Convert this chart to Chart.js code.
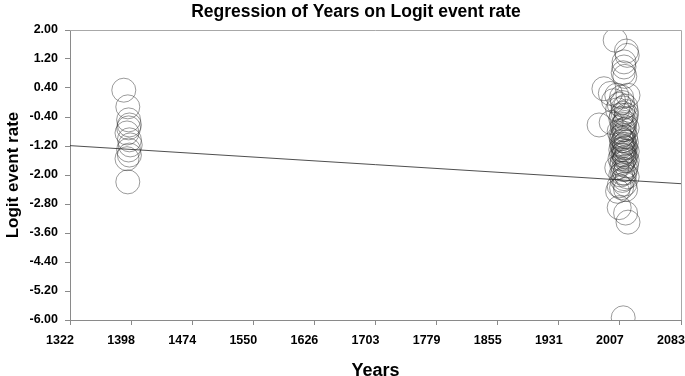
<!DOCTYPE html>
<html>
<head>
<meta charset="utf-8">
<script src="https://cdn.jsdelivr.net/npm/chart.js@4"></script>
<style>
  html, body { margin: 0; padding: 0; background: #ffffff; }
  #wrap { width: 685px; height: 376px; position: relative; }
</style>
</head>
<body>
<div id="wrap"><canvas id="c" width="685" height="376"></canvas></div>
<script>
// ---- Data ----
const studyYears = [
  1389, 1394, 1395, 1396, 1395, 1393, 1396, 1397, 1395, 1396, 1394, 1393,
  2001, 2015, 2016, 2012, 2012, 2011, 2013, 1987, 1995, 2003, 2009, 2017,
  1999, 2006, 2014, 2010, 2004, 2011, 2015, 1981, 1996, 2008, 2013, 2010,
  2016, 2006, 2012, 2014, 2009, 2011, 2015, 2013, 2010, 2012, 2008, 2016,
  2011, 2014, 2007, 2012, 2009, 2015, 2003, 2011, 2013, 2008, 2016, 2010,
  2013, 2006, 2004, 2014, 2006, 2014, 2017, 2011,
  2009, 2013, 2010, 2014, 2012, 2011, 2009, 2013, 2010, 2014, 2012, 2009,
  2015, 2011, 2008, 2016, 2012, 2010, 2013, 2011, 2014, 2012, 2009
];
const logitRates = [
  0.34, -0.12, -0.48, -0.62, -0.70, -0.84, -1.03, -1.17, -1.31, -1.45, -2.19, -1.55,
  1.72, 1.42, 1.30, 1.12, 0.98, 0.82, 0.72, 0.38, 0.25, 0.20, 0.15, 0.20,
  0.05, -0.05, -0.10, 0.00, -0.20, -0.30, -0.35, -0.62, -0.55, -0.45, -0.55, -0.65,
  -0.70, -0.80, -0.85, -0.95, -1.00, -1.05, -1.10, -1.15, -1.20, -1.25, -1.30, -1.35,
  -1.40, -1.50, -1.55, -1.60, -1.70, -1.75, -1.80, -1.85, -1.95, -2.00, -2.05, -2.15,
  -2.25, -2.30, -2.45, -2.40, -2.90, -3.05, -3.30, -5.94,
  -0.35, -0.75, -0.90, -1.25, -1.05, -1.30, -1.45, -1.55, -1.65, -1.85, -2.10, -2.35,
  -0.25, -0.15, -0.95, -1.60, -0.60, -1.95, -1.35, -0.75, -0.45, -1.45, -1.15
];
const regressionYears = [1322, 2083];
const regressionLogit = [-1.19, -2.24];
const xTickValues = [1322, 1398.1, 1474.2, 1550.3, 1626.4, 1702.5, 1778.6, 1854.7, 1930.8, 2006.9, 2083];
const xTickLabels = ['1322', '1398', '1474', '1550', '1626', '1703', '1779', '1855', '1931', '2007', '2083'];
const yTickValues = [2.0, 1.2, 0.4, -0.4, -1.2, -2.0, -2.8, -3.6, -4.4, -5.2, -6.0];
const yTickLabels = ['2.00', '1.20', '0.40', '-0.40', '-1.20', '-2.00', '-2.80', '-3.60', '-4.40', '-5.20', '-6.00'];
const chartTitle = 'Regression of Years on Logit event rate';
const xTitle = 'Years';
const yTitle = 'Logit event rate';

// ---- Build structures ----
const scatterPoints = studyYears.map((yr, i) => ({ x: yr, y: logitRates[i] }));
const linePoints = regressionYears.map((yr, i) => ({ x: yr, y: regressionLogit[i] }));

const FONT = "'Liberation Sans', Arial, sans-serif";
const zeroPad = () => ({ left: 0, top: 0, right: 0, bottom: 0 });

const framePlugin = {
  id: 'frame',
  afterDraw(chart) {
    const { ctx, chartArea: a } = chart;
    ctx.save();
    ctx.strokeStyle = '#a8a8a8';
    ctx.lineWidth = 1;
    ctx.beginPath();
    ctx.moveTo(a.left, a.top + 0.5);
    ctx.lineTo(a.right + 0.5, a.top + 0.5);
    ctx.lineTo(a.right + 0.5, a.bottom);
    ctx.stroke();
    ctx.restore();
  }
};

const titlePlugin = {
  id: 'customTitle',
  afterDraw(chart) {
    const { ctx } = chart;
    ctx.save();
    ctx.font = "bold 17.5px " + FONT;
    ctx.fillStyle = '#000';
    ctx.textAlign = 'center';
    ctx.textBaseline = 'middle';
    ctx.fillText(chartTitle, 356, 12);
    ctx.restore();
  }
};

new Chart(document.getElementById('c'), {
  type: 'scatter',
  data: {
    datasets: [
      {
        label: 'Studies',
        data: scatterPoints,
        pointRadius: 12,
        pointHoverRadius: 12,
        pointBorderWidth: 0.7,
        pointBorderColor: 'rgba(50,50,50,0.7)',
        pointBackgroundColor: 'rgba(0,0,0,0)',
        showLine: false
      },
      {
        label: 'Regression',
        type: 'line',
        data: linePoints,
        borderColor: '#222',
        borderWidth: 0.8,
        pointRadius: 0,
        fill: false
      }
    ]
  },
  plugins: [framePlugin, titlePlugin],
  options: {
    responsive: false,
    animation: false,
    devicePixelRatio: 1,
    layout: { autoPadding: false, padding: { top: 30, right: 4, bottom: 0, left: 0 } },
    plugins: {
      legend: { display: false },
      title: { display: false },
      tooltip: { enabled: false }
    },
    scales: {
      x: {
        type: 'linear',
        min: 1322,
        max: 2083,
        afterBuildTicks: (s) => { s.ticks = xTickValues.map(v => ({ value: v })); },
        afterFit: (s) => {
          s.height = 56; s.paddingLeft = 0; s.paddingRight = 0;
          s.getPadding = zeroPad;
        },
        grid: { display: true, drawOnChartArea: false, drawTicks: true, tickLength: 5, color: '#8a8a8a' },
        border: { display: true, color: '#8a8a8a', width: 1 },
        ticks: {
          padding: 8,
          labelOffset: -10,
          maxRotation: 0,
          autoSkip: false,
          color: '#000',
          font: { family: FONT, size: 12.5, weight: 'bold' },
          callback: (v, i) => xTickLabels[i]
        },
        title: {
          display: true,
          text: xTitle,
          color: '#000',
          padding: { top: 4, bottom: -6 },
          font: { family: FONT, size: 18, weight: 'bold' }
        }
      },
      y: {
        type: 'linear',
        min: -6,
        max: 2,
        afterBuildTicks: (s) => { s.ticks = yTickValues.map(v => ({ value: v })); },
        afterFit: (s) => {
          s.width = 70; s.paddingTop = 0; s.paddingBottom = 0;
          s.getPadding = zeroPad;
        },
        grid: { display: true, drawOnChartArea: false, drawTicks: true, tickLength: 5, color: '#8a8a8a' },
        border: { display: true, color: '#8a8a8a', width: 1 },
        ticks: {
          padding: 7,
          autoSkip: false,
          color: '#000',
          font: { family: FONT, size: 12.5, weight: 'bold' },
          callback: (v, i) => yTickLabels[i]
        },
        title: {
          display: true,
          text: yTitle,
          color: '#000',
          padding: { top: 3, bottom: 0 },
          font: { family: FONT, size: 17, weight: 'bold' }
        }
      }
    }
  }
});
</script>
</body>
</html>
